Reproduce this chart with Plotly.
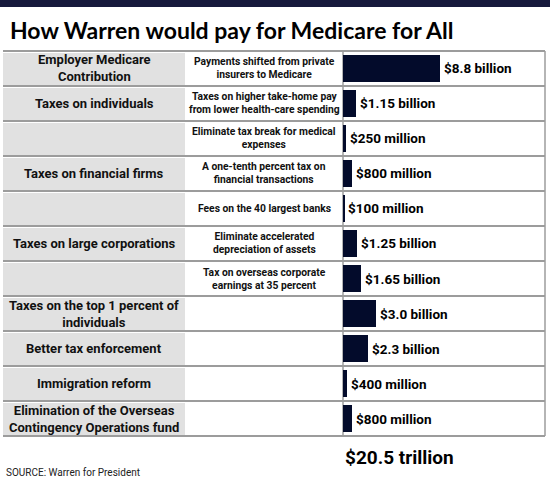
import plotly.graph_objects as go

# rows of the table, top to bottom
categories = [
    "Employer Medicare<br>Contribution",
    "Taxes on individuals",
    "",
    "Taxes on financial firms",
    "",
    "Taxes on large corporations",
    "",
    "Taxes on the top 1 percent of<br>individuals",
    "Better tax enforcement",
    "Immigration reform",
    "Elimination of the Overseas<br>Contingency Operations fund",
]
descriptions = [
    "Payments shifted from private<br>insurers to Medicare",
    "Taxes on higher take-home pay<br>from lower health-care spending",
    "Eliminate tax break for medical<br>expenses",
    "A one-tenth percent tax on<br>financial transactions",
    "Fees on the 40 largest banks",
    "Eliminate accelerated<br>depreciation of assets",
    "Tax on overseas corporate<br>earnings at 35 percent",
    "", "", "", "",
]
values_bn = [8.8, 1.15, 0.25, 0.8, 0.1, 1.25, 1.65, 3.0, 2.3, 0.4, 0.8]
value_labels = [
    "$8.8 billion", "$1.15 billion", "$250 million", "$800 million",
    "$100 million", "$1.25 billion", "$1.65 billion", "$3.0 billion",
    "$2.3 billion", "$400 million", "$800 million",
]
title_text = "How Warren would pay for Medicare for All"
total_label = "$20.5 trillion"
source_text = "SOURCE: Warren for President"

W, H = 550, 485
FONT = "Roboto"
NAVY = "#030b2b"
STRIP = "#161a3c"


def px(x):
    return x / W


def py(y):
    return 1 - y / H


def bold(s):
    return "<br>".join("<b>" + part + "</b>" for part in s.split("<br>"))


n = len(values_bn)
rows = list(range(n))
top, row_h = 51, 35
bottom = top + n * row_h
bar_left, right_edge = 343, 545

fig = go.Figure()
fig.add_trace(go.Bar(
    y=rows, x=values_bn, orientation="h", width=0.75,
    marker=dict(color=NAVY, line=dict(width=0)),
    hoverinfo="skip", showlegend=False,
))

# dark strip along the top edge
shapes = [dict(type="rect", xref="paper", yref="paper", x0=0, x1=1,
               y0=py(7), y1=py(0), fillcolor=STRIP,
               line=dict(width=0), layer="above")]
annotations = [
    dict(x=px(8), y=py(30), xref="paper", yref="paper",
         text="<b>" + title_text + "</b>", showarrow=False,
         xanchor="left", yanchor="middle",
         font=dict(family="Lato", size=23, color="#000")),
]
for i in rows:
    y0 = top + i * row_h
    shapes.append(dict(type="rect", xref="paper", yref="paper",
                       x0=px(3), x1=px(185), y0=py(y0 + row_h - 1), y1=py(y0 + 2),
                       fillcolor="#e1e1e1", line=dict(width=0), layer="below"))
    if categories[i]:
        annotations.append(dict(x=px(94), y=i, xref="paper", yref="y",
                                text=bold(categories[i]), showarrow=False,
                                xanchor="center", yanchor="middle",
                                font=dict(family=FONT, size=13, color="#111"),
                                align="center"))
    if descriptions[i]:
        annotations.append(dict(x=px(264), y=i, xref="paper", yref="y",
                                text=bold(descriptions[i]), showarrow=False,
                                xanchor="center", yanchor="middle",
                                font=dict(family=FONT, size=10.3, color="#111"),
                                align="center"))
    annotations.append(dict(x=values_bn[i], y=i, xref="x", yref="y",
                            text="<b>" + value_labels[i] + "</b>", showarrow=False,
                            xanchor="left", xshift=2,
                            font=dict(family=FONT, size=13.5, color="#000")))

for i in range(n + 1):
    y = top + i * row_h
    shapes.append(dict(type="line", xref="paper", yref="paper",
                       x0=px(3), x1=px(right_edge), y0=py(y), y1=py(y),
                       line=dict(color="#9c9c9c", width=2), layer="below"))
for x in (bar_left, right_edge):
    shapes.append(dict(type="line", xref="paper", yref="paper",
                       x0=px(x), x1=px(x), y0=py(top), y1=py(bottom),
                       line=dict(color="#9c9c9c", width=1.5), layer="below"))

annotations.append(dict(x=px(bar_left), y=py(457), xref="paper", yref="paper",
                        text="<b>" + total_label + "</b>", showarrow=False,
                        xanchor="left", yanchor="middle",
                        font=dict(family=FONT, size=19, color="#000")))
annotations.append(dict(x=px(4), y=py(472), xref="paper", yref="paper",
                        text=source_text, showarrow=False,
                        xanchor="left", yanchor="middle",
                        font=dict(family=FONT, size=10, color="#222")))

fig.update_layout(
    width=W, height=H,
    margin=dict(l=0, r=0, t=0, b=0),
    paper_bgcolor="white", plot_bgcolor="rgba(0,0,0,0)",
    xaxis=dict(domain=[px(bar_left), px(right_edge)],
               range=[0, (right_edge - bar_left) / 11.0],
               visible=False, fixedrange=True),
    yaxis=dict(domain=[py(bottom), py(top)], range=[n - 0.5, -0.5],
               visible=False, fixedrange=True),
    shapes=shapes, annotations=annotations,
    bargap=0,
)

# drop the browser's default 8px page margin so the figure sits at 0,0
fig.write_html("out.html", config={"displayModeBar": False},
               post_script="document.body.style.margin = '0';")
